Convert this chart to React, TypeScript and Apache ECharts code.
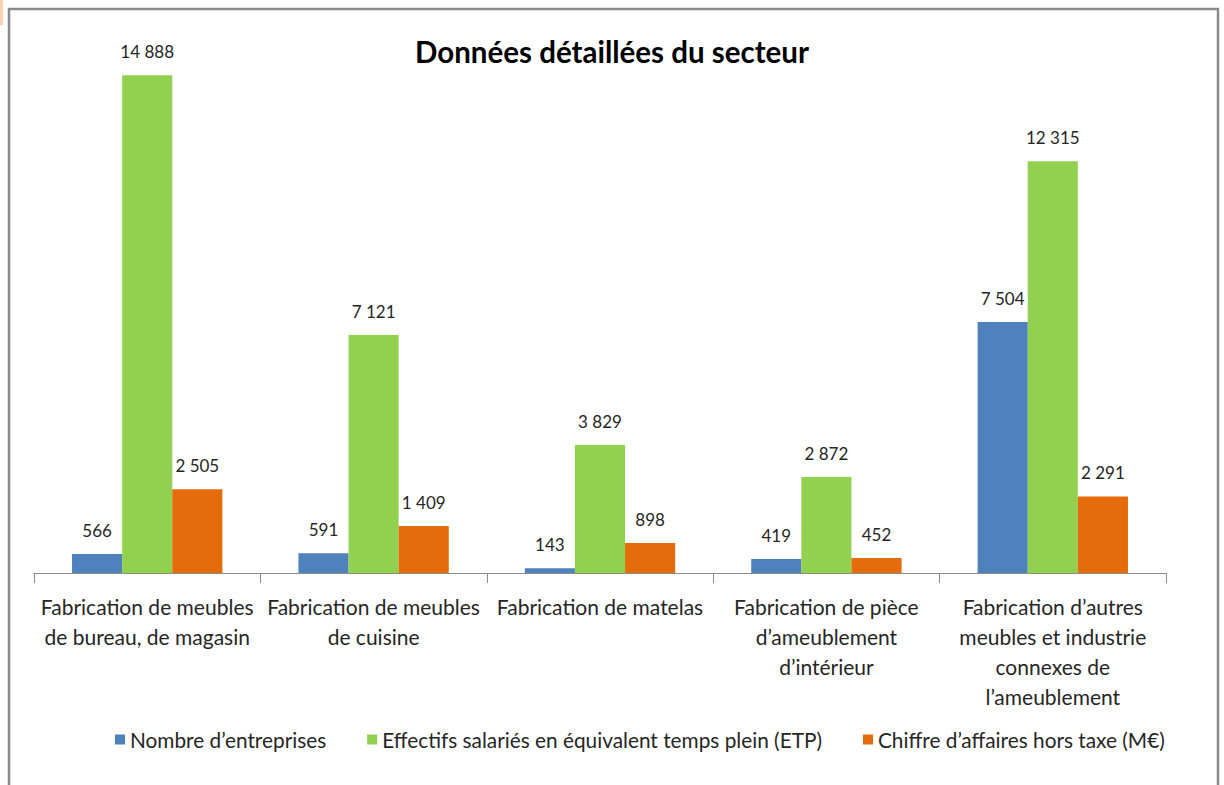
import React, { useEffect, useRef } from "react";
import * as echarts from "echarts";

const categories = [
  "Fabrication de meubles\nde bureau, de magasin",
  "Fabrication de meubles\nde cuisine",
  "Fabrication de matelas",
  "Fabrication de pièce\nd’ameublement\nd’intérieur",
  "Fabrication d’autres\nmeubles et industrie\nconnexes de\nl’ameublement",
];
const seriesNames = [
  "Nombre d’entreprises",
  "Effectifs salariés en équivalent temps plein (ETP)",
  "Chiffre d’affaires hors taxe (M€)",
];
const entreprises = [566, 591, 143, 419, 7504];
const effectifs = [14888, 7121, 3829, 2872, 12315];
const chiffre = [2505, 1409, 898, 452, 2291];
const colors = ["#4F81BD", "#92D050", "#E46C0A"];

const fmt = (v: number) => String(v).replace(/\B(?=(\d{3})+(?!\d))/g, " ");

export default function App() {
  const ref = useRef<HTMLDivElement>(null);
  useEffect(() => {
    if (!ref.current) return;
    const chart = echarts.init(ref.current, null, { renderer: "svg" });
    const font = "Lato, 'Open Sans', sans-serif";
    const mk = (name: string, data: number[], color: string) => ({
      name,
      type: "bar",
      data,
      barGap: "0%",
      barCategoryGap: "33.6%",
      itemStyle: { color },
      label: {
        show: true,
        position: "top",
        distance: 15,
        fontSize: 17,
        fontFamily: font,
        color: "#262626",
        formatter: (p: any) => fmt(p.value),
      },
    });
    chart.setOption({
      animation: false,
      backgroundColor: "#ffffff",
      title: {
        text: "Données détaillées du secteur",
        left: "center",
        top: 31,
        textStyle: { fontSize: 29.5, fontWeight: "bold", fontFamily: font, color: "#000" },
      },
      graphic: [
        {
          type: "rect",
          shape: { x: 9, y: 9, width: 1209, height: 800 },
          style: { fill: "none", stroke: "#8a8a8a", lineWidth: 2.5 },
          silent: true,
        },
        {
          type: "rect",
          shape: { x: 0, y: 0, width: 3, height: 25 },
          style: { fill: "#fbd3b3" },
          silent: true,
        },
      ],
      legend: {
        bottom: 30,
        left: 110,
        itemWidth: 10,
        itemHeight: 10,
        itemGap: 41,
        icon: "rect",
        textStyle: { fontSize: 20.8, fontFamily: font, color: "#262626" },
        data: seriesNames,
      },
      grid: { left: 34, right: 58, top: 38, bottom: 212 },
      xAxis: {
        type: "category",
        data: categories,
        axisLine: { lineStyle: { color: "#8c8c8c", width: 1 } },
        axisTick: { show: true, length: 10, lineStyle: { color: "#8c8c8c" } },
        axisLabel: {
          interval: 0,
          margin: 18,
          fontSize: 21,
          lineHeight: 30,
          fontFamily: font,
          color: "#262626",
        },
      },
      yAxis: {
        type: "value",
        min: 0,
        max: 16000,
        show: false,
        splitLine: { show: false },
      },
      series: [
        mk(seriesNames[0], entreprises, colors[0]),
        mk(seriesNames[1], effectifs, colors[1]),
        mk(seriesNames[2], chiffre, colors[2]),
      ],
    });
    return () => chart.dispose();
  }, []);
  return (
    <div
      ref={ref}
      style={{ position: "fixed", left: 0, top: 0, width: 1224, height: 785 }}
    />
  );
}
